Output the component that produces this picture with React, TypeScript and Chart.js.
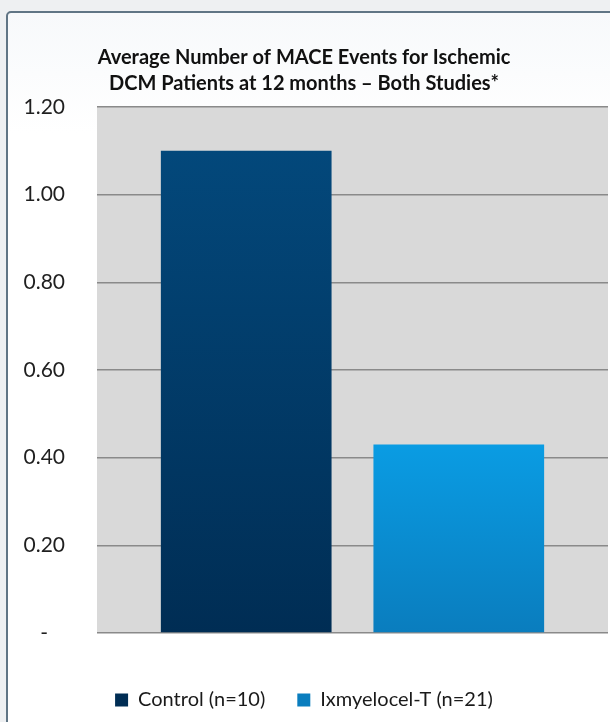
import React, { useEffect, useRef } from 'react';
import { Chart, registerables } from 'chart.js';

Chart.register(...registerables);

const categories = ['MACE events at 12 months'];
const seriesNames = ['Control (n=10)', 'Ixmyelocel-T (n=21)'];
const controlValues = [1.1];
const ixmyelocelValues = [0.43];
const yMin = 0;
const yMax = 1.2;
const yStep = 0.2;
const titleLines = [
  'Average Number of MACE Events for Ischemic',
  'DCM Patients at 12 months \u2013 Both Studies*',
];

const FONT = 'Lato, "Open Sans", sans-serif';

const plotBackground = {
  id: 'plotBackground',
  beforeDraw(chart: any) {
    const { ctx, chartArea: a } = chart;
    if (!a) return;
    ctx.save();
    ctx.fillStyle = '#d9d9d9';
    ctx.fillRect(a.left, a.top, a.right - a.left, a.bottom - a.top);
    ctx.restore();
  },
};

function barGradient(top: string, bottom: string, solid: string) {
  return (c: any) => {
    const chart = c.chart;
    const area = chart.chartArea;
    if (c.type !== 'data' || !area || !chart.scales || !chart.scales.y) return solid;
    const y = chart.scales.y.getPixelForValue(c.raw);
    const g = chart.ctx.createLinearGradient(0, y, 0, area.bottom);
    g.addColorStop(0, top);
    g.addColorStop(1, bottom);
    return g;
  };
}

export default function App() {
  const ref = useRef<HTMLCanvasElement | null>(null);

  useEffect(() => {
    if (!ref.current) return;
    const chart = new Chart(ref.current, {
      type: 'bar',
      data: {
        labels: categories,
        datasets: [
          {
            label: seriesNames[0],
            data: controlValues,
            backgroundColor: barGradient('#03487b', '#002d54', '#0b3c64'),
            borderWidth: 0,
            categoryPercentage: 0.832,
            barPercentage: 0.803,
          },
          {
            label: seriesNames[1],
            data: ixmyelocelValues,
            backgroundColor: barGradient('#0a9ce3', '#0a7dbe', '#1893d8'),
            borderWidth: 0,
            categoryPercentage: 0.832,
            barPercentage: 0.803,
          },
        ],
      },
      options: {
        animation: false,
        responsive: false,
        layout: { padding: { left: 0, right: 2, top: 0, bottom: 2 } },
        plugins: {
          title: {
            display: true,
            text: titleLines,
            color: '#111',
            font: { family: FONT, size: 20, weight: 'bold', lineHeight: 1.3 },
            padding: { top: 45, bottom: 10 },
          },
          legend: {
            position: 'bottom',
            labels: {
              boxWidth: 13,
              boxHeight: 13,
              padding: 32,
              color: '#1a1a1a',
              font: { family: FONT, size: 20 },
            },
          },
          tooltip: { enabled: false },
        },
        scales: {
          x: {
            display: true,
            grid: { display: false },
            border: { display: false },
            ticks: { display: false },
            afterFit: (s: any) => {
              s.height = 25;
            },
          },
          y: {
            min: yMin,
            max: yMax,
            border: { display: false },
            grid: { color: '#8a8a8a', lineWidth: 1.5, drawTicks: false },
            ticks: {
              stepSize: yStep,
              padding: 32,
              crossAlign: 'center',
              color: '#1f1f1f',
              font: { family: FONT, size: 21 },
              callback: (v: any) => (Math.abs(Number(v)) < 1e-9 ? '-' : Number(v).toFixed(2)),
            },
            afterFit: (s: any) => {
              s.width = 97;
            },
          },
        },
      },
      plugins: [plotBackground],
    } as any);
    return () => chart.destroy();
  }, []);

  return (
    <div
      style={{
        position: 'fixed',
        left: 0,
        top: 0,
        width: 610,
        height: 722,
        overflow: 'hidden',
        background: '#eef0f2',
      }}
    >
      <div
        style={{
          position: 'absolute',
          left: 6,
          top: 11,
          width: 660,
          height: 780,
          border: '2px solid #607585',
          borderRadius: 5,
          background: 'linear-gradient(#f7f9fb, #ffffff 120px)',
        }}
      />
      <canvas ref={ref} width={610} height={722} style={{ position: 'absolute', left: 0, top: 0 }} />
    </div>
  );
}
